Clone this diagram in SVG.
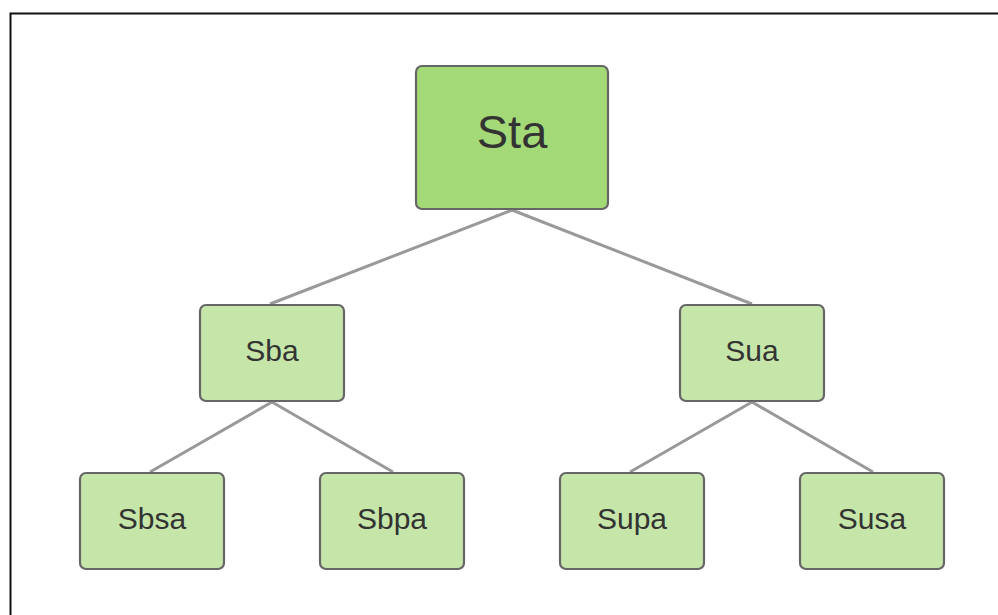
<svg xmlns="http://www.w3.org/2000/svg" width="998" height="615" viewBox="0 0 998 615">
  <style>
    .frame { fill: #ffffff; stroke: #111111; stroke-width: 2; }
    .box { stroke: #666666; stroke-width: 2.2; }
    .root { fill: #a3d977; }
    .child { fill: #c5e6a8; }
    .label { font-family: "Liberation Sans", Arial, sans-serif; fill: #333333; text-anchor: middle; dominant-baseline: central; }
    .big { font-size: 47px; }
    .small { font-size: 30px; }
    .edge { stroke: #999999; stroke-width: 3; fill: none; }
  </style>
  <rect x="0" y="0" width="998" height="615" fill="#ffffff"/>
  <rect class="frame" x="10.5" y="13.5" width="1000" height="700"/>

  <g id="connectors">
    <line class="edge" x1="512" y1="210" x2="270" y2="304"/>
    <line class="edge" x1="512" y1="210" x2="752" y2="304"/>
    <line class="edge" x1="272" y1="402" x2="150" y2="472"/>
    <line class="edge" x1="272" y1="402" x2="393" y2="472"/>
    <line class="edge" x1="752" y1="402" x2="630" y2="472"/>
    <line class="edge" x1="752" y1="402" x2="873" y2="472"/>
  </g>

  <g id="sta">
    <rect class="box root" x="416" y="66" width="192" height="143" rx="6"/>
    <text class="label big" x="512" y="131">Sta</text>
  </g>
  <g id="sba">
    <rect class="box child" x="200" y="305" width="144" height="96" rx="6"/>
    <text class="label small" x="272" y="350">Sba</text>
  </g>
  <g id="sua">
    <rect class="box child" x="680" y="305" width="144" height="96" rx="6"/>
    <text class="label small" x="752" y="350">Sua</text>
  </g>
  <g id="sbsa">
    <rect class="box child" x="80" y="473" width="144" height="96" rx="6"/>
    <text class="label small" x="152" y="518">Sbsa</text>
  </g>
  <g id="sbpa">
    <rect class="box child" x="320" y="473" width="144" height="96" rx="6"/>
    <text class="label small" x="392" y="518">Sbpa</text>
  </g>
  <g id="supa">
    <rect class="box child" x="560" y="473" width="144" height="96" rx="6"/>
    <text class="label small" x="632" y="518">Supa</text>
  </g>
  <g id="susa">
    <rect class="box child" x="800" y="473" width="144" height="96" rx="6"/>
    <text class="label small" x="872" y="518">Susa</text>
  </g>
</svg>
